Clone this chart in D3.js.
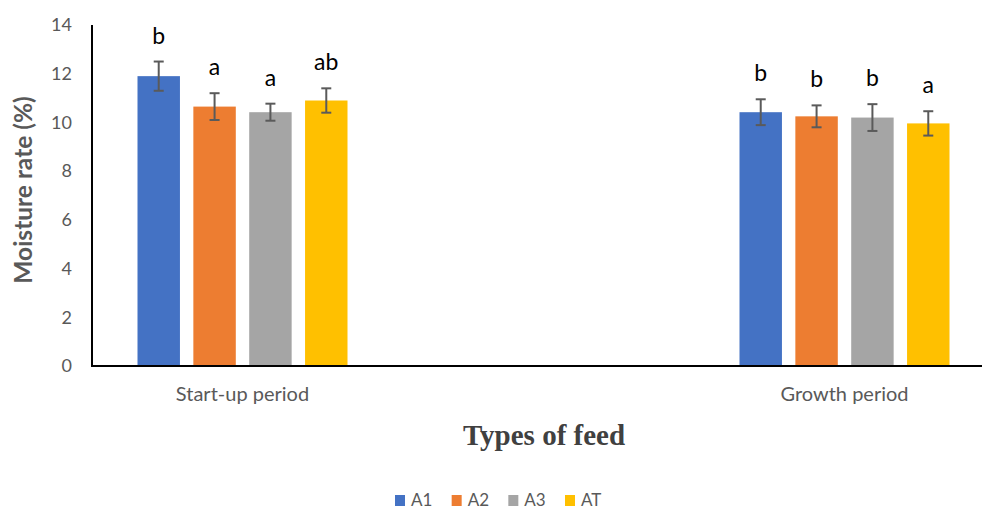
<!DOCTYPE html>
<html><head><meta charset="utf-8">
<script src="https://cdn.jsdelivr.net/npm/d3@7"></script>
<style>body{margin:0;background:#fff;}svg{display:block;}</style>
</head><body><svg id="c" width="982" height="511"></svg>
<script>
const categories = ["Start-up period", "Growth period"];
const series = ["A1", "A2", "A3", "AT"];
const colors = ["#4472C4", "#ED7D31", "#A5A5A5", "#FFC000"];
const startupValues = [11.9, 10.65, 10.42, 10.9];
const startupErrors = [0.6, 0.55, 0.35, 0.5];
const growthValues = [10.42, 10.25, 10.2, 9.96];
const growthErrors = [0.53, 0.45, 0.55, 0.5];
const startupLetters = ["b", "a", "a", "ab"];
const growthLetters = ["b", "b", "b", "a"];
const yTicks = [0, 2, 4, 6, 8, 10, 12, 14];

(function(){
const values = [startupValues, growthValues];
const errors = [startupErrors, growthErrors];
const letters = [startupLetters, growthLetters];

const svg = d3.select("#c");
const mLeft = 92, mRight = 982, mTop = 25, mBottom = 366;
const y = d3.scaleLinear().domain([0, 14]).range([mBottom, mTop]);
const x = d3.scalePoint().domain(categories).range([242.5, 844.5]);
const xs = d3.scaleBand().domain(series).range([-105, 105]).paddingInner(0.24).paddingOuter(0);

const font = "Lato, 'Open Sans', 'Liberation Sans', sans-serif";
const grey = "#595959";

// y tick labels
const yAxis = d3.axisLeft(y).tickValues(yTicks).tickSize(0).tickPadding(20);
const ya = svg.append("g").attr("transform", `translate(${mLeft},0)`).call(yAxis);
ya.select(".domain").remove();
ya.selectAll("text").attr("font-family", font).attr("font-size", 18).attr("fill", grey);

// bars
const data = [];
categories.forEach((c, i) => series.forEach((s, j) => data.push({c, s, j, v: values[i][j], e: errors[i][j], l: letters[i][j]})));
const cx = d => x(d.c) + xs(d.s) + xs.bandwidth() / 2;

const g = svg.append("g");
g.selectAll("rect").data(data).enter().append("rect")
  .attr("x", d => x(d.c) + xs(d.s))
  .attr("width", xs.bandwidth())
  .attr("y", d => y(d.v))
  .attr("height", d => y(0) - y(d.v))
  .attr("fill", d => colors[d.j]);

// error bars
const eb = g.selectAll("g.eb").data(data).enter().append("g").attr("class", "eb")
  .attr("stroke", "#5a5a5a").attr("stroke-width", 2);
eb.append("line").attr("x1", cx).attr("x2", cx)
  .attr("y1", d => y(d.v + d.e)).attr("y2", d => y(d.v - d.e));
eb.append("line").attr("x1", d => cx(d) - 5).attr("x2", d => cx(d) + 5)
  .attr("y1", d => y(d.v + d.e)).attr("y2", d => y(d.v + d.e));
eb.append("line").attr("x1", d => cx(d) - 5).attr("x2", d => cx(d) + 5)
  .attr("y1", d => y(d.v - d.e)).attr("y2", d => y(d.v - d.e));

// letters
g.selectAll("text.lt").data(data).enter().append("text").attr("class", "lt")
  .attr("x", cx)
  .attr("y", d => y(d.v + d.e) - 18)
  .attr("text-anchor", "middle").attr("font-family", font).attr("font-size", 23)
  .attr("fill", "#000").text(d => d.l);

// axes lines
svg.append("line").attr("x1", mLeft).attr("x2", mLeft).attr("y1", mTop).attr("y2", mBottom + 1).attr("stroke", "#000").attr("stroke-width", 2);
svg.append("line").attr("x1", mLeft - 1).attr("x2", mRight).attr("y1", mBottom).attr("y2", mBottom).attr("stroke", "#000").attr("stroke-width", 2);

// category labels
svg.selectAll("text.cat").data(categories).enter().append("text").attr("class", "cat")
  .attr("x", d => x(d)).attr("y", 401).attr("text-anchor", "middle")
  .attr("font-family", font).attr("font-size", 20).attr("fill", grey).text(d => d);

// axis titles
svg.append("text").attr("transform", "translate(32,190) rotate(-90)").attr("text-anchor", "middle")
  .attr("font-family", font).attr("font-weight", "bold").attr("font-size", 24.5).attr("fill", grey).text("Moisture rate (%)");
svg.append("text").attr("x", 544).attr("y", 445).attr("text-anchor", "middle")
  .attr("font-family", "'Liberation Serif', 'Times New Roman', serif").attr("font-weight", "bold").attr("font-size", 29)
  .attr("fill", "#404040").text("Types of feed");

// legend
const lx = d3.scalePoint().domain(series).range([395, 565]);
const lg = svg.selectAll("g.lg").data(series).enter().append("g").attr("class", "lg")
  .attr("transform", d => `translate(${lx(d)},0)`);
lg.append("rect").attr("x", 0).attr("y", 495).attr("width", 10).attr("height", 11).attr("fill", (d, i) => colors[i]);
lg.append("text").attr("x", 16).attr("y", 506).attr("font-family", font).attr("font-size", 17).attr("fill", grey).text(d => d);
})();
</script></body></html>
